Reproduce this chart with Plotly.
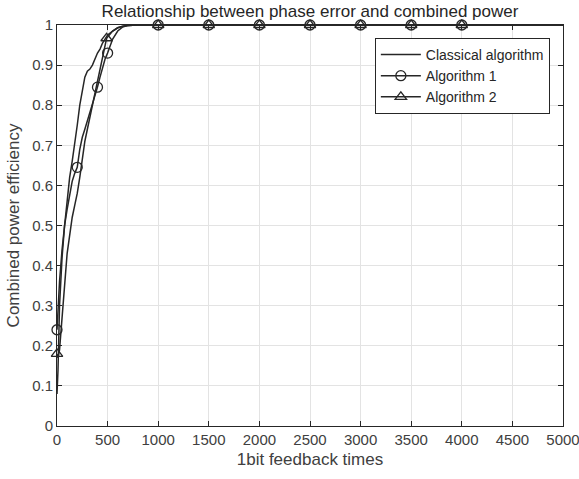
import plotly.graph_objects as go

# ---- data ----
classical_x = [0, 10, 25, 50, 75, 100, 125, 150, 175, 200, 225, 250, 275, 300, 325, 350, 375, 400, 425, 450, 475, 500, 550, 600, 650, 700, 800, 1000, 1500, 2000, 2500, 3000, 3500, 4000, 4500, 5000]
classical_y = [0.08, 0.14, 0.30, 0.42, 0.50, 0.56, 0.62, 0.66, 0.70, 0.75, 0.80, 0.84, 0.87, 0.885, 0.89, 0.90, 0.915, 0.93, 0.94, 0.955, 0.965, 0.975, 0.985, 0.993, 0.997, 0.999, 1.0, 1.0, 1.0, 1.0, 1.0, 1.0, 1.0, 1.0, 1.0, 1.0]

alg1_x = [0, 10, 25, 50, 75, 100, 125, 150, 175, 200, 225, 250, 275, 300, 325, 350, 375, 400, 425, 450, 475, 500, 550, 600, 650, 700, 800, 1000, 1500, 2000, 2500, 3000, 3500, 4000, 4500, 5000]
alg1_y = [0.24, 0.29, 0.36, 0.44, 0.50, 0.54, 0.58, 0.61, 0.63, 0.645, 0.69, 0.72, 0.74, 0.76, 0.78, 0.80, 0.82, 0.845, 0.87, 0.895, 0.915, 0.93, 0.965, 0.985, 0.995, 0.999, 1.0, 1.0, 1.0, 1.0, 1.0, 1.0, 1.0, 1.0, 1.0, 1.0]
alg1_marker_x = [0, 200, 400, 500, 1000, 1500, 2000, 2500, 3000, 3500, 4000]

alg2_x = [0, 10, 25, 50, 75, 100, 125, 150, 175, 200, 225, 250, 275, 300, 325, 350, 375, 400, 425, 450, 475, 490, 550, 600, 650, 700, 800, 1000, 1500, 2000, 2500, 3000, 3500, 4000, 4500, 5000]
alg2_y = [0.18, 0.17, 0.19, 0.26, 0.35, 0.43, 0.48, 0.52, 0.55, 0.58, 0.62, 0.67, 0.71, 0.74, 0.77, 0.80, 0.83, 0.86, 0.89, 0.92, 0.95, 0.967, 0.985, 0.993, 0.997, 0.999, 1.0, 1.0, 1.0, 1.0, 1.0, 1.0, 1.0, 1.0, 1.0, 1.0]
alg2_marker_x = [0, 490, 1000, 1500, 2000, 2500, 3000, 3500, 4000]

x_ticks = [0, 500, 1000, 1500, 2000, 2500, 3000, 3500, 4000, 4500, 5000]
y_ticks = [0, 0.1, 0.2, 0.3, 0.4, 0.5, 0.6, 0.7, 0.8, 0.9, 1]
y_tick_labels = ["0", "0.1", "0.2", "0.3", "0.4", "0.5", "0.6", "0.7", "0.8", "0.9", "1"]

LINE = "#262626"
TEXT = "#404040"
FONT = "Liberation Sans, Arial, sans-serif"


def pick(xs, ys, mx):
    d = dict(zip(xs, ys))
    return mx, [d[v] for v in mx]


fig = go.Figure()

# lines
fig.add_trace(go.Scatter(x=classical_x, y=classical_y, mode="lines",
                         line=dict(color=LINE, width=1.5), showlegend=False, hoverinfo="skip"))
fig.add_trace(go.Scatter(x=alg1_x, y=alg1_y, mode="lines",
                         line=dict(color=LINE, width=1.5), showlegend=False, hoverinfo="skip"))
fig.add_trace(go.Scatter(x=alg2_x, y=alg2_y, mode="lines",
                         line=dict(color=LINE, width=1.5), showlegend=False, hoverinfo="skip"))

# markers
m1x, m1y = pick(alg1_x, alg1_y, alg1_marker_x)
fig.add_trace(go.Scatter(x=m1x, y=m1y, mode="markers", showlegend=False, cliponaxis=False,
                         marker=dict(symbol="circle-open", size=10, color=LINE, line=dict(width=1.3))))
m2x, m2y = pick(alg2_x, alg2_y, alg2_marker_x)
fig.add_trace(go.Scatter(x=m2x, y=m2y, mode="markers", showlegend=False, cliponaxis=False,
                         marker=dict(symbol="triangle-up-open", size=10, color=LINE, line=dict(width=1.3))))

# legend entries
fig.add_trace(go.Scatter(x=[None], y=[None], mode="lines", name="Classical algorithm",
                         line=dict(color=LINE, width=1.5)))
fig.add_trace(go.Scatter(x=[None], y=[None], mode="lines+markers", name="Algorithm 1",
                         line=dict(color=LINE, width=1.5),
                         marker=dict(symbol="circle-open", size=10, color=LINE, line=dict(width=1.3))))
fig.add_trace(go.Scatter(x=[None], y=[None], mode="lines+markers", name="Algorithm 2",
                         line=dict(color=LINE, width=1.5),
                         marker=dict(symbol="triangle-up-open", size=10, color=LINE, line=dict(width=1.3))))

axis_common = dict(showline=True, linecolor=LINE, linewidth=1, mirror="allticks",
                   ticks="inside", ticklen=5, tickcolor=LINE, automargin=False,
                   showgrid=True, gridcolor="#e3e3e3", gridwidth=1, zeroline=False,
                   ticklabeloverflow="allow",
                   tickfont=dict(family=FONT, size=15, color=TEXT))

fig.update_xaxes(range=[0, 5000], tickvals=x_ticks, ticktext=[str(v) for v in x_ticks],
                 title=dict(text="1bit feedback times", font=dict(family=FONT, size=17, color=TEXT), standoff=6),
                 **axis_common)
fig.update_yaxes(range=[0, 1], tickvals=y_ticks, ticktext=y_tick_labels,
                 title=dict(text="Combined power efficiency", font=dict(family=FONT, size=17, color=TEXT), standoff=8),
                 **axis_common)

fig.update_layout(
    width=579, height=479,
    margin=dict(l=57, r=16, t=25, b=53, autoexpand=False),
    paper_bgcolor="white", plot_bgcolor="white",
    font=dict(family=FONT, color=TEXT),
    title=dict(text="Relationship between phase error and combined power",
               font=dict(family=FONT, size=17, color="#262626"),
               x=(57 + 563) / 2 / 579, xanchor="center", y=1 - 11 / 479, yanchor="middle"),
    legend=dict(x=0.974, y=0.968, xanchor="right", yanchor="top",
                bgcolor="white", bordercolor=LINE, borderwidth=1,
                font=dict(family=FONT, size=14, color="#262626"),
                tracegroupgap=0, itemwidth=40),
    showlegend=True,
)

fig.write_html("out.html", config={"displayModeBar": False},
               post_script="document.body.style.margin='0';document.body.style.overflow='hidden';")
